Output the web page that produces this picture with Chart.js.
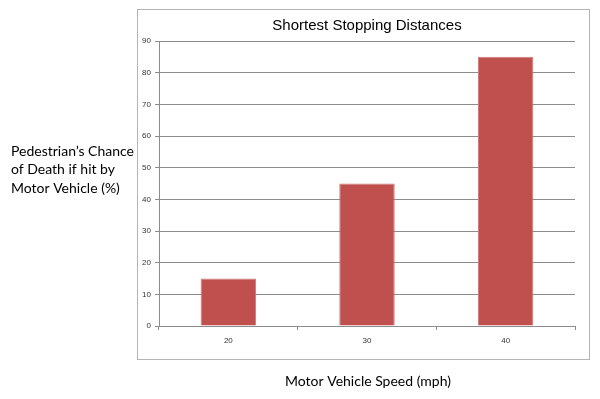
<!DOCTYPE html>
<html>
<head>
<meta charset="utf-8">
<script src="https://cdn.jsdelivr.net/npm/chart.js@4/dist/chart.umd.min.js"></script>
<style>
    html, body { margin: 0; padding: 0; background: #fff; }
    #wrap { width: 600px; height: 399px; position: relative; }
</style>
</head>
<body>
<div id="wrap"><canvas id="chart"></canvas></div>
<script>
const speeds = ['20', '30', '40']
const deathChance = [15, 45, 85]
const yTicks = [0, 10, 20, 30, 40, 50, 60, 70, 80, 90]

const chartTitle = 'Shortest Stopping Distances'
const yTitleLines = ['Pedestrian\u2019s Chance', 'of Death if hit by', 'Motor Vehicle (%)']
const xTitle = 'Motor Vehicle Speed (mph)'

const gridColor = '#8c8c8c'
const tickColor = '#333333'

// frame box round the plot plus the titles that sit outside it
const outsideText = {
    id: 'outsideText',
    beforeDraw(chart) {
        const ctx = chart.ctx
        ctx.save()
        ctx.strokeStyle = '#b4b4b4'
        ctx.lineWidth = 1
        ctx.strokeRect(137.5, 9.5, 452, 350)
        ctx.restore()
    },
    afterDraw(chart) {
        const ctx = chart.ctx
        const area = chart.chartArea
        ctx.save()
        ctx.fillStyle = '#000'
        ctx.font = '14px Lato'
        ctx.textBaseline = 'middle'
        ctx.textAlign = 'left'
        yTitleLines.forEach((line, i) => ctx.fillText(line, 11, 151 + i * 18.5))
        ctx.textAlign = 'center'
        ctx.fillText(xTitle, 368, 381)
        ctx.restore()
    }
}

new Chart(document.getElementById('chart'), {
    type: 'bar',
    data: {
        labels: speeds,
        datasets: [{
            data: deathChance,
            backgroundColor: '#C0504D',
            borderColor: '#cf7b78',
            borderWidth: 1,
            categoryPercentage: 1,
            barPercentage: 0.4
        }]
    },
    options: {
        responsive: true,
        maintainAspectRatio: false,
        animation: false,
        layout: { padding: { left: 0, right: 25, top: 0, bottom: 0 } },
        plugins: {
            legend: { display: false },
            tooltip: { enabled: false },
            title: {
                display: true,
                text: chartTitle,
                fullSize: false,
                color: '#000',
                font: { family: 'Liberation Sans', size: 15, weight: 'normal' },
                padding: { top: 17, bottom: 6 }
            }
        },
        scales: {
            x: {
                offset: true,
                afterFit(scale) { scale.height = 73 },
                grid: { offset: true, drawOnChartArea: false, drawTicks: true, tickLength: 4, color: gridColor },
                border: { color: gridColor },
                ticks: { color: tickColor, padding: 6, font: { family: 'Liberation Sans', size: 8 } }
            },
            y: {
                min: 0,
                max: 90,
                afterFit(scale) { scale.width = 159 },
                afterBuildTicks(scale) { scale.ticks = yTicks.map(v => ({ value: v })) },
                grid: { color: gridColor, drawTicks: true, tickLength: 4 },
                border: { color: gridColor },
                ticks: { color: tickColor, padding: 4, font: { family: 'Liberation Sans', size: 8 } }
            }
        }
    },
    plugins: [outsideText]
})
</script>
</body>
</html>
